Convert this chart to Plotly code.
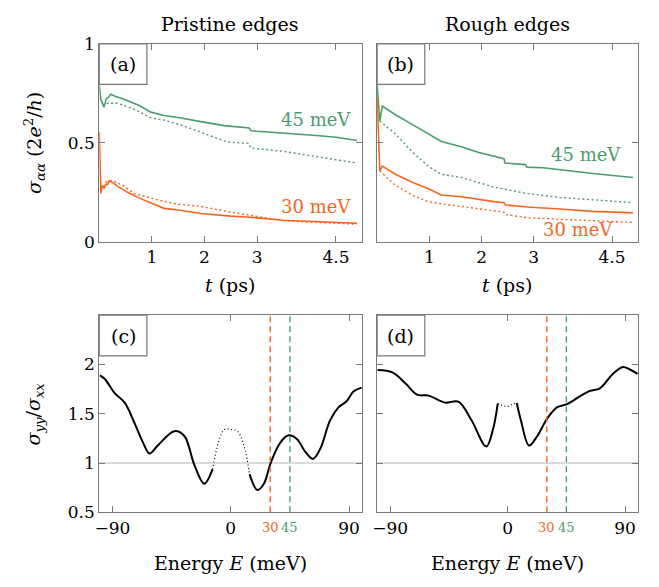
import plotly.graph_objects as go

# ---------------- data ----------------
# Panel (a) Pristine edges, sigma vs t
a45_solid_t = [0, 0.03, 0.09, 0.13, 0.19, 0.22, 0.3, 0.47, 0.75, 0.98, 1.23, 1.5, 1.93, 2.37, 2.85, 2.88, 3.0, 3.5, 4.13, 4.5, 4.9]
a45_solid_v = [0.79, 0.72, 0.68, 0.72, 0.735, 0.745, 0.735, 0.72, 0.69, 0.655, 0.638, 0.628, 0.607, 0.587, 0.575, 0.562, 0.558, 0.55, 0.537, 0.528, 0.512]
a45_dot_t = [0.06, 0.1, 0.16, 0.35, 0.66, 0.98, 1.23, 1.61, 1.93, 2.43, 2.85, 2.88, 3.5, 4.13, 4.5, 4.9]
a45_dot_v = [0.69, 0.69, 0.70, 0.70, 0.67, 0.626, 0.615, 0.585, 0.553, 0.504, 0.497, 0.474, 0.457, 0.431, 0.415, 0.398]
a30_solid_t = [0, 0.015, 0.03, 0.06, 0.09, 0.12, 0.16, 0.19, 0.25, 0.35, 0.54, 0.75, 0.98, 1.23, 1.5, 1.93, 2.5, 2.87, 3.5, 4.0, 4.5, 4.9]
a30_solid_v = [0.555, 0.35, 0.245, 0.285, 0.27, 0.29, 0.29, 0.308, 0.3, 0.28, 0.25, 0.222, 0.195, 0.169, 0.161, 0.143, 0.13, 0.124, 0.109, 0.104, 0.099, 0.094]
a30_dot_t = [0.12, 0.2, 0.28, 0.45, 0.66, 0.98, 1.23, 1.5, 1.93, 2.5, 2.87, 3.5, 4.0, 4.5, 4.9]
a30_dot_v = [0.30, 0.31, 0.306, 0.285, 0.244, 0.22, 0.204, 0.19, 0.179, 0.15, 0.134, 0.107, 0.1, 0.094, 0.089]

# Panel (b) Rough edges
b45_solid_t = [0, 0.05, 0.1, 0.35, 0.67, 0.98, 1.23, 1.61, 1.93, 2.43, 2.45, 2.84, 2.87, 3.18, 3.5, 4.13, 4.9]
b45_solid_v = [0.797, 0.61, 0.686, 0.642, 0.593, 0.545, 0.507, 0.48, 0.452, 0.42, 0.398, 0.39, 0.377, 0.374, 0.363, 0.345, 0.325]
b45_dot_t = [0.05, 0.35, 0.67, 0.98, 1.23, 1.61, 2.24, 2.87, 3.5, 4.13, 4.9]
b45_dot_v = [0.61, 0.545, 0.455, 0.382, 0.341, 0.325, 0.276, 0.244, 0.224, 0.211, 0.198]
b30_solid_t = [0, 0.05, 0.1, 0.35, 0.67, 0.98, 1.23, 1.61, 2.24, 2.43, 2.45, 2.87, 3.5, 4.13, 4.9]
b30_solid_v = [0.73, 0.358, 0.382, 0.341, 0.301, 0.268, 0.236, 0.228, 0.203, 0.197, 0.187, 0.176, 0.166, 0.154, 0.146]
b30_dot_t = [0.05, 0.35, 0.67, 0.98, 1.23, 1.61, 2.24, 2.43, 2.45, 2.87, 3.5, 4.13, 4.9]
b30_dot_v = [0.358, 0.285, 0.236, 0.203, 0.192, 0.179, 0.154, 0.15, 0.138, 0.122, 0.114, 0.106, 0.098]

# Panel (c) Pristine edges, sigma_yy / sigma_xx vs E
c_left_E = [-99.6, -95.9, -88.3, -80.7, -73.1, -66.8, -61.8, -55.5, -42.9, -35.3, -27.8, -20.2, -13.9]
c_left_v = [1.89, 1.855, 1.71, 1.613, 1.403, 1.21, 1.097, 1.178, 1.323, 1.274, 0.984, 0.79, 0.935]
c_mid_E = [-13.9, -5.1, 0, 5.0, 10.0, 14.3]
c_mid_v = [0.935, 1.339, 1.339, 1.323, 1.178, 0.887]
c_right_E = [14.3, 20.2, 25.2, 30.3, 37.8, 44.1, 50.4, 56.7, 62.5, 68.1, 75.6, 81.9, 88.2, 93.3, 99.5]
c_right_v = [0.887, 0.726, 0.79, 1.0, 1.21, 1.281, 1.242, 1.113, 1.042, 1.145, 1.435, 1.565, 1.629, 1.726, 1.765]

# Panel (d) Rough edges
d_left_E = [-99.8, -88.3, -78.2, -69.4, -60.5, -48.0, -37.8, -27.8, -16.4, -11.3, -7.6]
d_left_v = [1.945, 1.92, 1.807, 1.694, 1.684, 1.613, 1.623, 1.436, 1.168, 1.339, 1.603]
d_mid_E = [-7.6, -3.0, 0, 3.5, 7.0]
d_mid_v = [1.603, 1.58, 1.575, 1.595, 1.61]
d_right_E = [7.0, 10.1, 16.4, 22.7, 30.3, 37.8, 45.4, 55.5, 63.0, 70.6, 80.6, 88.2, 93.3, 99.6]
d_right_v = [1.61, 1.436, 1.178, 1.274, 1.452, 1.565, 1.597, 1.678, 1.732, 1.758, 1.904, 1.975, 1.952, 1.904]

t_ticks = [1, 2, 3, 4.5]
t_ticktext = ["1", "2", "3", "4.5"]
sig_ticks = [0, 0.5, 1]
sig_ticktext = ["0", "0.5", "1"]
ratio_ticks = [0.5, 1, 1.5, 2]
ratio_ticktext = ["0.5", "1", "1.5", "2"]
E_ticks = [-90, 0, 90]
E_ticktext = ["\u221290", "0", "90"]
marker_energies = [30, 45]
marker_labels = ["30", "45"]

GREEN = "#4a9d6c"
ORANGE = "#f5661e"
FRAME = "#7a7a7a"
FONT = "DejaVu Serif"

W, H = 659, 587
def px(x0, x1):
    return [x0 / W, x1 / W]
def py(y0, y1):
    return [1 - y1 / H, 1 - y0 / H]

DOT = "2px,2.6px"

fig = go.Figure()

def add(x, y, color, dash, xa, ya, shape="linear", width=1.6):
    fig.add_trace(go.Scatter(x=x, y=y, mode="lines", xaxis=xa, yaxis=ya,
                             line=dict(color=color, width=width, dash=dash, shape=shape),
                             showlegend=False, hoverinfo="skip"))

add(a45_solid_t, a45_solid_v, GREEN, "solid", "x", "y")
add(a45_dot_t, a45_dot_v, GREEN, DOT, "x", "y", width=1.4)
add(a30_solid_t, a30_solid_v, ORANGE, "solid", "x", "y")
add(a30_dot_t, a30_dot_v, ORANGE, DOT, "x", "y", width=1.4)

add(b45_solid_t, b45_solid_v, GREEN, "solid", "x2", "y2")
add(b45_dot_t, b45_dot_v, GREEN, DOT, "x2", "y2", width=1.4)
add(b30_solid_t, b30_solid_v, ORANGE, "solid", "x2", "y2")
add(b30_dot_t, b30_dot_v, ORANGE, DOT, "x2", "y2", width=1.4)

add(c_left_E, c_left_v, "black", "solid", "x3", "y3", "spline", 2)
add(c_mid_E, c_mid_v, "black", "1px,2.5px", "x3", "y3", "spline", 1.2)
add(c_right_E, c_right_v, "black", "solid", "x3", "y3", "spline", 2)

add(d_left_E, d_left_v, "black", "solid", "x4", "y4", "spline", 2)
add(d_mid_E, d_mid_v, "black", "1px,2.5px", "x4", "y4", "spline", 1.2)
add(d_right_E, d_right_v, "black", "solid", "x4", "y4", "spline", 2)

tickfont = dict(family=FONT, size=17, color="black")
common = dict(showline=True, linecolor=FRAME, linewidth=1.2, mirror="ticks",
              ticks="inside", ticklen=6, tickcolor=FRAME, showgrid=False,
              zeroline=False, tickfont=tickfont)

top_dom = py(35, 240)
bot_dom = py(316, 520)
left_dom = px(95, 360)
right_dom = px(375, 638)

fig.update_layout(
    width=W, height=H, autosize=False, margin=dict(l=0, r=0, t=0, b=0, pad=0),
    paper_bgcolor="white", plot_bgcolor="white",
    font=dict(family=FONT, color="black"),
    xaxis=dict(domain=left_dom, range=[0, 5], tickvals=t_ticks, ticktext=t_ticktext, anchor="y", **common),
    yaxis=dict(domain=top_dom, range=[0, 1], tickvals=sig_ticks, ticktext=sig_ticktext, anchor="x", **common),
    xaxis2=dict(domain=right_dom, range=[0, 5], tickvals=t_ticks, ticktext=t_ticktext, anchor="y2", **common),
    yaxis2=dict(domain=top_dom, range=[0, 1], tickvals=sig_ticks, showticklabels=False, anchor="x2", **common),
    xaxis3=dict(domain=left_dom, range=[-100, 100], tickvals=E_ticks, ticktext=E_ticktext, anchor="y3", **common),
    yaxis3=dict(domain=bot_dom, range=[0.5, 2.5], tickvals=ratio_ticks, ticktext=ratio_ticktext, anchor="x3", **common),
    xaxis4=dict(domain=right_dom, range=[-100, 100], tickvals=E_ticks, ticktext=E_ticktext, anchor="y4", **common),
    yaxis4=dict(domain=bot_dom, range=[0.5, 2.5], tickvals=ratio_ticks, showticklabels=False, anchor="x4", **common),
)

shapes = []
ann = []
for xa, ya in [("x3", "y3"), ("x4", "y4")]:
    shapes.append(dict(type="line", xref=f"{xa} domain", yref=ya, x0=0, x1=1, y0=1, y1=1,
                       line=dict(color="#b5b5b5", width=1.2), layer="below"))
    for e, col, lab in zip(marker_energies, [ORANGE, GREEN], marker_labels):
        shapes.append(dict(type="line", xref=xa, yref=f"{ya} domain", x0=e, x1=e, y0=0, y1=1,
                           line=dict(color=col, width=1.4, dash="6px,4px")))
        ann.append(dict(text=lab, x=e, xref=xa, y=-0.03, yref=f"{ya} domain", showarrow=False,
                        xanchor="center", yanchor="top",
                        font=dict(family=FONT, size=13, color=col)))

# panel label boxes
labels = ["(a)", "(b)", "(c)", "(d)"]
boxes = [(95, 35), (375, 35), (95, 316), (375, 316)]
for lab, (bx, by) in zip(labels, boxes):
    shapes.append(dict(type="rect", xref="paper", yref="paper",
                       x0=bx / W, x1=(bx + 48) / W, y0=1 - (by + 42) / H, y1=1 - by / H,
                       line=dict(color=FRAME, width=1.2), fillcolor="white"))
    ann.append(dict(text=lab, x=(bx + 24) / W, y=1 - (by + 21) / H, xref="paper", yref="paper",
                    showarrow=False, font=dict(family=FONT, size=19, color="black"),
                    xanchor="center", yanchor="middle"))

def text(t, x, y, size=20, color="black", angle=0):
    ann.append(dict(text=t, x=x / W, y=1 - y / H, xref="paper", yref="paper", showarrow=False,
                    font=dict(family=FONT, size=size, color=color), textangle=angle,
                    xanchor="center", yanchor="middle"))

text("Pristine edges", 227, 14, 19)
text("Rough edges", 506, 14, 19)
text("<i>t</i> (ps)", 227, 285, 19)
text("<i>t</i> (ps)", 506, 285, 19)
text("Energy <i>E</i> (meV)", 227, 572, 19)
text("Energy <i>E</i> (meV)", 506, 572, 19)
text("<i>σ<sub>αα</sub></i> (2<i>e</i><sup>2</sup>/<i>h</i>)", 30, 138, 19, angle=-90)
text("<i>σ<sub>yy</sub></i>/<i>σ<sub>xx</sub></i>", 30, 418, 19, angle=-90)
text("45 meV", 313, 113, 18, GREEN)
text("30 meV", 313, 203, 18, ORANGE)
text("45 meV", 585, 150, 18, GREEN)
text("30 meV", 577, 227, 18, ORANGE)

fig.update_layout(shapes=shapes, annotations=ann)
fig.write_html("out.html", config={"displayModeBar": False, "responsive": False},
               post_script="document.body.style.margin='0px';document.body.style.overflow='hidden';document.documentElement.style.overflow='hidden';")
